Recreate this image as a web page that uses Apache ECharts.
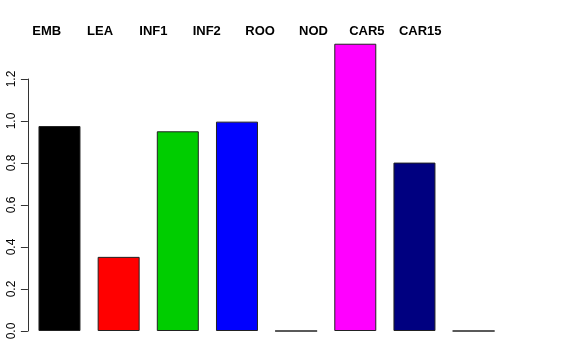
<!DOCTYPE html>
<html><head><meta charset="utf-8">
<script src="https://cdn.jsdelivr.net/npm/echarts@6/dist/echarts.min.js"></script>
<style>html,body{margin:0;padding:0;background:#fff}#c{width:576px;height:360px}</style>
</head><body><div id="c"></div>
<script>
var categories = ['EMB','LEA','INF1','INF2','ROO','NOD','CAR5','CAR15'];
var values = [0.976, 0.353, 0.951, 0.997, 0, 1.368, 0.802, 0];
var colors = ['#000000','#FF0000','#00CD00','#0000FF','#00FFFF','#FF00FF','#000080','#888888'];
var yTicks = [0, 0.2, 0.4, 0.6, 0.8, 1.0, 1.2];

var chart = echarts.init(document.getElementById('c'), null, {renderer:'canvas'});
chart.setOption({
  animation:false,
  backgroundColor:'#fff',
  textStyle:{fontFamily:'Liberation Sans'},
  grid:[
    {left:29.9, right:72.8, top:79, bottom:29},
    {left:20, right:129.1, top:39, height:10}
  ],
  xAxis:[
    {type:'category', gridIndex:0, data:categories, show:false},
    {type:'category', gridIndex:1, data:categories, position:'top',
     axisLine:{show:false}, axisTick:{show:false},
     axisLabel:{margin:1, fontSize:13, fontWeight:'bold', color:'#000', fontFamily:'Liberation Sans', interval:0}}
  ],
  yAxis:[
    {type:'value', gridIndex:0, min:yTicks[0], max:yTicks[yTicks.length-1], interval:0.2, offset:2,
     axisLine:{show:true, lineStyle:{color:'#333', width:1}},
     axisTick:{show:true, length:7, lineStyle:{color:'#333'}},
     splitLine:{show:false},
     axisLabel:{rotate:90, margin:10, fontSize:12, color:'#000', fontFamily:'Liberation Sans',
       formatter:function(v){return v.toFixed(1);}}},
    {type:'value', gridIndex:1, show:false}
  ],
  series:[{
    type:'bar', xAxisIndex:0, yAxisIndex:0, clip:false, barWidth:42,
    data: values.map(function(v,i){return {value:v, itemStyle:{color:colors[i]}};}),
    itemStyle:{borderColor:'#222', borderWidth:1}
  }]
});
</script></body></html>
